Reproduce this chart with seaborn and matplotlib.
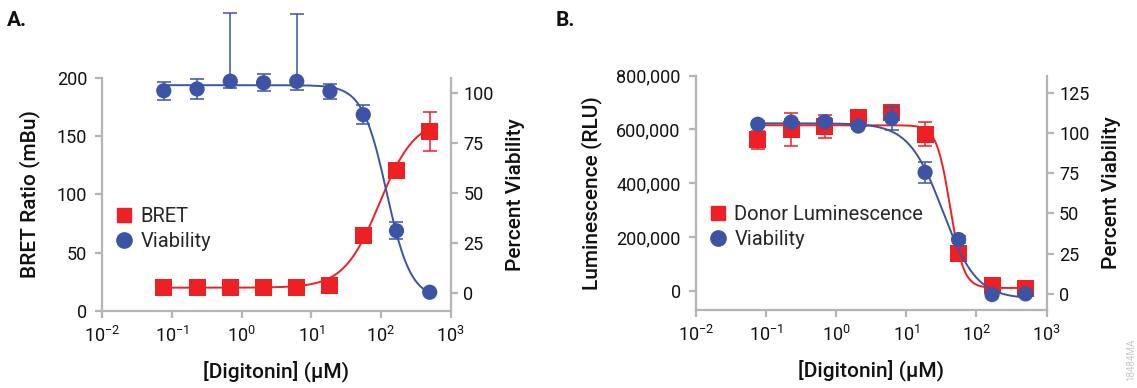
import numpy as np
import pandas as pd
import matplotlib
matplotlib.use("Agg")
import matplotlib.pyplot as plt
import seaborn as sns
from matplotlib.lines import Line2D
from matplotlib.ticker import LogLocator, NullLocator, FuncFormatter

# ---------------- data ----------------
conc_uM = [0.0762, 0.229, 0.686, 2.06, 6.17, 18.5, 55.6, 166.7, 500.0]

# Panel A
bret_mbu = [20, 20, 20, 20, 20.5, 21.5, 64.6, 120.5, 154.4]
bret_err = [1.5, 1.5, 1.5, 1.5, 1.5, 1.5, 2.0, 2.5, 16.7]
viabA = [101.2, 102.1, 106.0, 105.2, 105.9, 100.9, 89.2, 31.0, 0.2]
viabA_err_lo = [4.5, 5.0, 3.6, 4.2, 4.4, 3.9, 4.9, 4.3, 0.5]
viabA_err_hi = [4.5, 5.0, 34.0, 4.2, 34.0, 3.9, 4.9, 4.3, 0.5]

# Panel B
donor_rlu = [561000, 599000, 611000, 642000, 664000, 582000, 139000, 17500, 9000]
donor_err = [33000, 62000, 42000, 10000, 15000, 45000, 8000, 4000, 4000]
viabB = [105.4, 106.8, 107.0, 104.3, 109.1, 75.5, 33.8, -0.4, 0.0]
viabB_err = [2.0, 2.0, 2.0, 2.0, 7.2, 6.4, 2.0, 1.5, 1.5]

# 4-parameter logistic fit parameters: bottom, top, EC50/IC50 (uM), hill
fit_bret = (20, 165, 95, 1.7)
fit_viabA = (-3, 104, 120, 2.5)
fit_donor = (10000, 615000, 42, 4.5)
fit_viabB = (-3, 106, 33, 1.8)

RED = "#ED2024"
BLUE = "#3B54A5"
GRAY = "#B5B5B5"
TXT = "#111111"


def four_pl(x, bottom, top, ec50, hill, rising):
    r = (x / ec50) ** hill
    frac = r / (1 + r)
    return bottom + (top - bottom) * frac if rising else top - (top - bottom) * frac


sns.set_style("ticks")
plt.rcParams["font.family"] = ["Roboto", "DejaVu Sans"]
plt.rcParams["mathtext.fontset"] = "custom"
plt.rcParams["mathtext.rm"] = "Roboto"
plt.rcParams["mathtext.it"] = "Roboto"
plt.rcParams["mathtext.bf"] = "Roboto:bold"

fig = plt.figure(figsize=(11.37, 3.88), dpi=100)

xfit = np.logspace(np.log10(conc_uM[0]), np.log10(conc_uM[-1]), 300)

TICK_FS = 13
LAB_FS = 15
LEG_FS = 14.5


def style_axes(ax, ax2):
    for a in (ax, ax2):
        a.set_xscale("log")
        a.set_xlim(1e-2, 1e3)
        for s in a.spines.values():
            s.set_color(GRAY)
            s.set_linewidth(1.6)
        a.spines["top"].set_visible(False)
        a.tick_params(colors=GRAY, labelcolor=TXT, width=1.6, length=5,
                      labelsize=TICK_FS)
        a.set_facecolor("none")
    ax.spines["right"].set_visible(False)
    ax2.spines["left"].set_visible(False)
    ax2.spines["bottom"].set_visible(False)
    ax.xaxis.set_major_locator(LogLocator(base=10, numticks=10))
    ax.xaxis.set_minor_locator(NullLocator())
    ax.tick_params(axis="x", pad=6)
    ax.tick_params(axis="y", pad=6)
    ax2.tick_params(axis="y", pad=4)


def draw_pts(a, y, elo, ehi, color, marker, size):
    a.errorbar(conc_uM, y, yerr=[elo, ehi], fmt="none", ecolor=color,
               elinewidth=1.1, capsize=5, capthick=1.1, clip_on=False, zorder=3)
    df = pd.DataFrame({"x": conc_uM, "y": y})
    sns.scatterplot(data=df, x="x", y="y", ax=a, color=color, marker=marker,
                    s=size, edgecolor="none", zorder=4, clip_on=False)


# ---------------- Panel A ----------------
axA = fig.add_axes([0.0900, 0.1985, 0.3064, 0.6005])
axA2 = axA.twinx()
style_axes(axA, axA2)

dfA1 = pd.DataFrame({"x": xfit, "y": four_pl(xfit, *fit_bret, rising=True)})
sns.lineplot(data=dfA1, x="x", y="y", ax=axA, color=RED, linewidth=1.4, zorder=2)
draw_pts(axA, bret_mbu, bret_err, bret_err, RED, "s", 150)

dfA2 = pd.DataFrame({"x": xfit, "y": four_pl(xfit, *fit_viabA, rising=False)})
sns.lineplot(data=dfA2, x="x", y="y", ax=axA2, color=BLUE, linewidth=1.4, zorder=2)
draw_pts(axA2, viabA, viabA_err_lo, viabA_err_hi, BLUE, "o", 120)

axA.set_ylim(0, 200)
axA.set_yticks([0, 50, 100, 150, 200])
axA2.set_ylim(-9.2, 107.6)
axA2.set_yticks([0, 25, 50, 75, 100])
axA.set_xlabel("[Digitonin] (µM)", fontsize=LAB_FS, fontweight="medium", color=TXT, labelpad=10)
axA.set_ylabel("BRET Ratio (mBu)", fontsize=LAB_FS, fontweight="medium", color=TXT, labelpad=12)
axA2.set_ylabel("Percent Viability", fontsize=LAB_FS, fontweight="medium", color=TXT, labelpad=9)

hA = [Line2D([], [], marker="s", color=RED, linestyle="none", markersize=10.5),
      Line2D([], [], marker="o", color=BLUE, linestyle="none", markersize=11)]
axA2.legend(hA, ["BRET", "Viability"], loc="upper left", bbox_to_anchor=(0.0, 0.50),
            frameon=False, fontsize=LEG_FS, handletextpad=0.3, labelspacing=0.3,
            handlelength=1.0, borderaxespad=0.2)

# ---------------- Panel B ----------------
axB = fig.add_axes([0.6121, 0.2010, 0.3084, 0.6044])
axB2 = axB.twinx()
style_axes(axB, axB2)

dfB1 = pd.DataFrame({"x": xfit, "y": four_pl(xfit, *fit_donor, rising=False)})
sns.lineplot(data=dfB1, x="x", y="y", ax=axB, color=RED, linewidth=1.4, zorder=2)
draw_pts(axB, donor_rlu, donor_err, donor_err, RED, "s", 150)

dfB2 = pd.DataFrame({"x": xfit, "y": four_pl(xfit, *fit_viabB, rising=False)})
sns.lineplot(data=dfB2, x="x", y="y", ax=axB2, color=BLUE, linewidth=1.4, zorder=2)
draw_pts(axB2, viabB, viabB_err, viabB_err, BLUE, "o", 120)

axB.set_ylim(-72000, 800000)
axB.set_yticks([0, 200000, 400000, 600000, 800000])
axB.yaxis.set_major_formatter(FuncFormatter(lambda v, p: f"{int(v):,}"))
axB2.set_ylim(-10, 135.7)
axB2.set_yticks([0, 25, 50, 75, 100, 125])
axB.set_xlabel("[Digitonin] (µM)", fontsize=LAB_FS, fontweight="medium", color=TXT, labelpad=10)
axB.set_ylabel("Luminescence (RLU)", fontsize=LAB_FS, fontweight="medium", color=TXT, labelpad=10)
axB2.set_ylabel("Percent Viability", fontsize=LAB_FS, fontweight="medium", color=TXT, labelpad=9)

hB = [Line2D([], [], marker="s", color=RED, linestyle="none", markersize=10.5),
      Line2D([], [], marker="o", color=BLUE, linestyle="none", markersize=11)]
axB2.legend(hB, ["Donor Luminescence", "Viability"], loc="upper left",
            bbox_to_anchor=(0.0, 0.50), frameon=False, fontsize=LEG_FS,
            handletextpad=0.3, labelspacing=0.3, handlelength=1.0, borderaxespad=0.2)

# panel letters and code
fig.text(7 / 1137, 1 - 21 / 388, "A.", fontsize=15, fontweight="bold", color=TXT, va="center")
fig.text(556 / 1137, 1 - 21 / 388, "B.", fontsize=15, fontweight="bold", color=TXT, va="center")
fig.text(1131 / 1137, 1 - 360 / 388, "18484MA", fontsize=7, color="#c8c8c8",
         rotation=90, ha="center", va="center")

fig.savefig("out.png", dpi=100)
